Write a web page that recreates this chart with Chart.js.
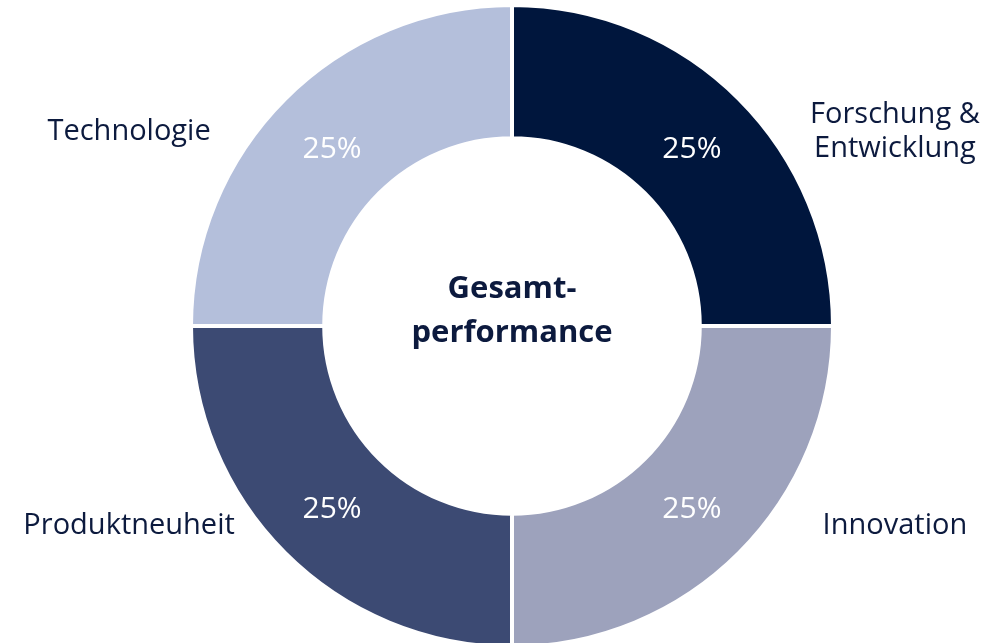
<!DOCTYPE html>
<html>
<head>
<meta charset="utf-8">
<script src="https://cdn.jsdelivr.net/npm/chart.js@4/dist/chart.umd.min.js"></script>
<style>
  html, body { margin: 0; padding: 0; background: #fff; overflow: hidden; }
  #wrap { position: relative; width: 994px; height: 645px; }
</style>
</head>
<body>
<div id="wrap"><canvas id="chart"></canvas></div>
<script>
var categories = [["Forschung &", "Entwicklung"], ["Innovation"], ["Produktneuheit"], ["Technologie"]];
var shares = [25, 25, 25, 25];
var sliceColors = ["#00163d", "#9da2bc", "#3c4a73", "#b4bfdb"];
var centerLines = ["Gesamt-", "performance"];

var g_textColor = "#0c1a3e";
var g_font = "'Open Sans', sans-serif";

var labelPlugin = {
    id: "sliceLabels",
    afterDatasetsDraw: function (chart) {
        var ctx = chart.ctx;
        var arcs = chart.getDatasetMeta(0).data;
        var total = shares.reduce(function (a, b) { return a + b; }, 0);
        ctx.save();
        ctx.textAlign = "center";
        ctx.textBaseline = "alphabetic";
        arcs.forEach(function (arc, i) {
            var p = arc.getProps(["x", "y", "startAngle", "endAngle", "innerRadius", "outerRadius"], true);
            var mid = (p.startAngle + p.endAngle) / 2;
            var rMid = (p.innerRadius + p.outerRadius) / 2;
            // percentage inside the ring
            ctx.fillStyle = "#ffffff";
            ctx.font = "400 30px " + g_font;
            var pct = Math.round(shares[i] / total * 100) + "%";
            ctx.fillText(pct, p.x + Math.cos(mid) * rMid, p.y + Math.sin(mid) * rMid + 12);
            // category name outside
            ctx.fillStyle = g_textColor;
            ctx.font = "400 29px " + g_font;
            var lx = p.x + Math.cos(mid) * p.outerRadius * 1.687;
            var ly = p.y + Math.sin(mid) * p.outerRadius * 0.87 + 11;
            var lines = categories[i];
            var lh = 34;
            lines.forEach(function (line, j) {
                ctx.fillText(line, lx, ly + (j - (lines.length - 1) / 2) * lh);
            });
        });
        // text in the hole
        var c = arcs[0];
        ctx.fillStyle = g_textColor;
        ctx.font = "700 31px " + g_font;
        centerLines.forEach(function (line, j) {
            ctx.fillText(line, c.x, c.y - 28 + j * 44);
        });
        ctx.restore();
    }
};

var ctx = document.getElementById("chart").getContext("2d");
var chart = new Chart(ctx, {
    type: "doughnut",
    data: {
        labels: categories.map(function (l) { return l.join(" "); }),
        datasets: [{
            data: shares,
            backgroundColor: sliceColors,
            borderColor: "#ffffff",
            borderWidth: 4,
            radius: 321,
            cutout: "58.5%"
        }]
    },
    options: {
        responsive: true,
        maintainAspectRatio: false,
        animation: false,
        layout: { padding: { left: 30, top: 7, right: 0, bottom: 0 } },
        plugins: {
            legend: { display: false },
            tooltip: { enabled: false }
        }
    },
    plugins: [labelPlugin]
});
</script>
</body>
</html>
